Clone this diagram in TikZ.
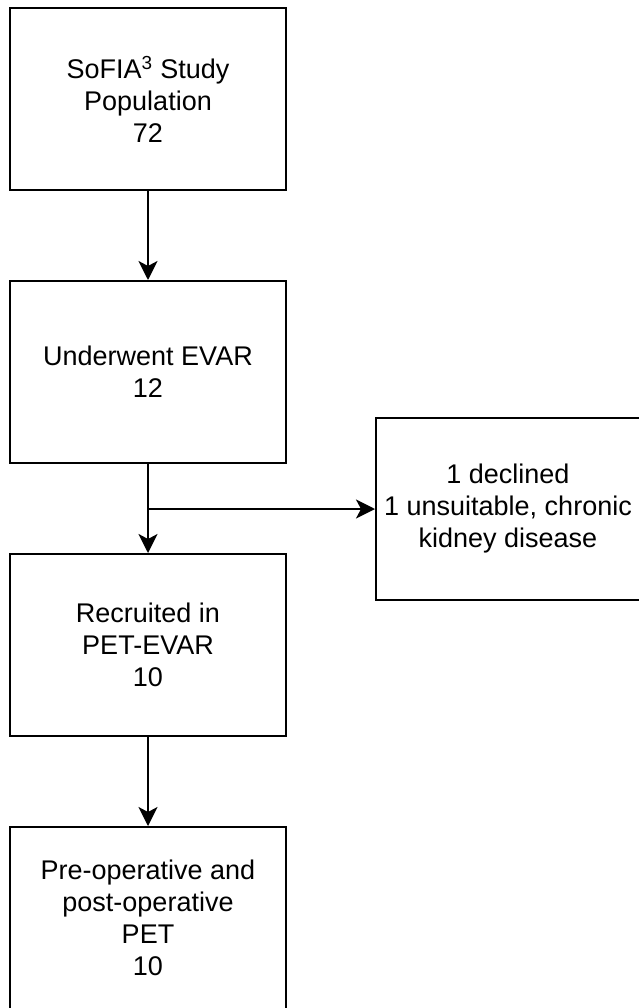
\documentclass[tikz,border=0pt]{standalone}
\usepackage{fontspec}
\setmainfont{Liberation Sans}
\usepackage{tikz}
\usetikzlibrary{calc, arrows.meta}

\tikzset{
  stagebox/.style={draw, line width=2pt, minimum width=276pt, minimum height=182pt,
    inner sep=0pt, align=center, font=\fontsize{27}{32}\selectfont},
  exclbox/.style={stagebox, minimum width=264pt},
  flow/.style={-{Stealth[length=19pt,width=19pt,inset=5pt]}, line width=2pt}
}

\begin{document}
\begin{tikzpicture}[x=1pt,y=-1pt]
      \useasboundingbox (0,0) rectangle (639,1008);
      \node[stagebox] (pop) at (148,99) {SoFIA\textsuperscript{3} Study\\Population\\72};
      \node[stagebox] (evar) at (148,372) {Underwent EVAR\\12};
      \node[stagebox] (recr) at (148,645) {Recruited in\\PET-EVAR\\10};
      \node[stagebox] (pet) at (148,918) {Pre-operative and\\post-operative\\PET\\10};
      \node[exclbox] (excl) at (508,509) {1 declined\\1 unsuitable, chronic\\kidney disease};
      \coordinate (split) at (148,509);
      % vertical lines
      \draw[flow] (pop) -- (evar);
      \draw[flow] (evar) -- (recr);
      \draw[flow] (recr) -- (pet);
      % horizontal line
      \draw[flow] (split) -- (excl);
    \end{tikzpicture}
\end{document}
